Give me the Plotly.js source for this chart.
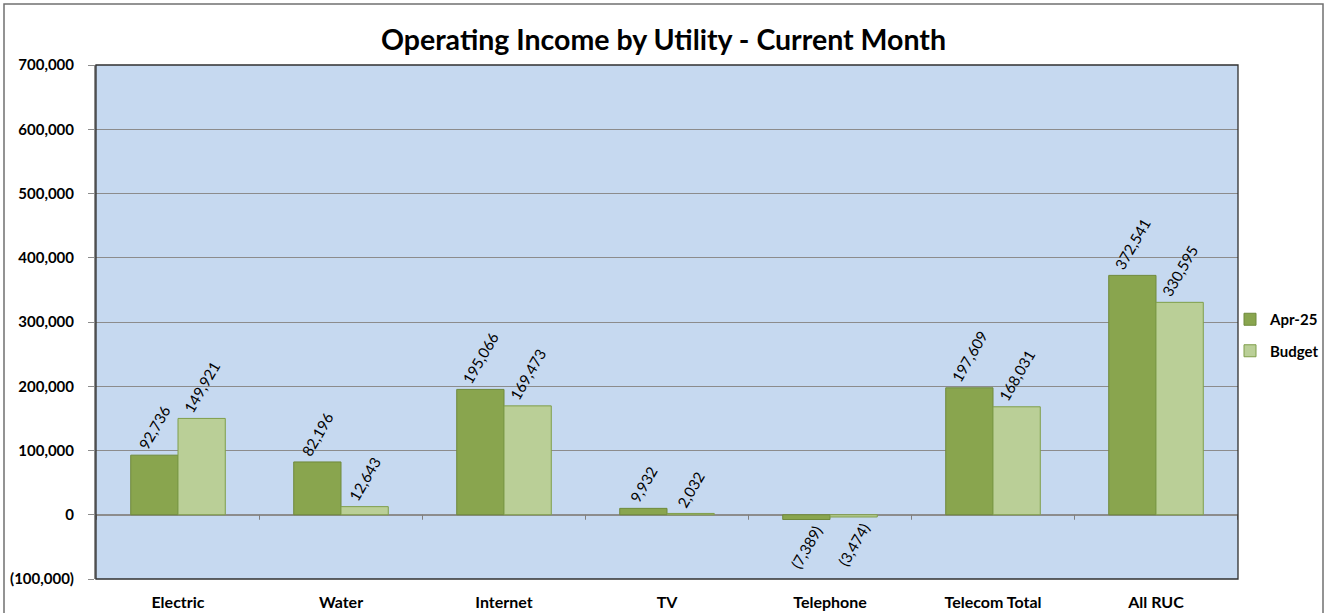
<!DOCTYPE html>
<html><head><meta charset="utf-8">
<script src="https://cdn.plot.ly/plotly-3.0.1.min.js"></script>
<style>html,body{margin:0;padding:0;background:#fff;}#chart{width:1327px;height:613px;}</style>
</head><body><div id="chart"></div>
<script>
const categories = ["Electric","Water","Internet","TV","Telephone","Telecom Total","All RUC"];
const actualName = "Apr-25";
const budgetName = "Budget";
const actualValues = [92736, 82196, 195066, 9932, -7389, 197609, 372541];
const budgetValues = [149921, 12643, 169473, 2032, -3474, 168031, 330595];
const yTicks = [-100000, 0, 100000, 200000, 300000, 400000, 500000, 600000, 700000];

function fmt(v){
  const s = Math.abs(v).toLocaleString('en-US');
  return v < 0 ? '(' + s + ')' : s;
}
const W = 1327, H = 613;
const m = {l:96, r:89, t:65, b:34, autoexpand:false};
const pw = W - m.l - m.r, ph = H - m.t - m.b;
const font = 'Lato, "Open Sans", Arial, sans-serif';

function barTrace(name, vals, fill, line, grp){
  return {
    type:'bar', name:name, x:categories, y:vals, legendgroup:grp,
    text: vals.map(fmt), textposition:'outside', textangle:-60,
    textfont:{family:font, size:15, color:'#000'},
    constraintext:'none', cliponaxis:false,
    marker:{color:fill, line:{color:line, width:1}},
    hoverinfo:'skip'
  };
}
const traces = [
  barTrace(actualName, actualValues, '#89A54E', '#6F8A3C', 'a'),
  barTrace(budgetName, budgetValues, '#BACF97', '#7F9E4A', 'b')
];

const shapes = [];
// category boundary ticks on the zero line
for (let i = 0; i <= categories.length; i++){
  shapes.push({type:'line', xref:'x', yref:'y', ysizemode:'pixel', yanchor:0,
    x0:i-0.5, x1:i-0.5, y0:0, y1:-5, line:{color:'#808080', width:1}, layer:'above'});
}
// plot area border
shapes.push({type:'rect', xref:'paper', yref:'paper', x0:0, x1:1, y0:0, y1:1,
  line:{color:'#303030', width:1.3}, layer:'above'});
// outer chart border
shapes.push({type:'rect', xref:'paper', yref:'paper',
  x0:(4-m.l)/pw, x1:(1323-m.l)/pw, y0:-(m.b+10)/ph, y1:(m.t-4)/ph + 1,
  line:{color:'#707070', width:1.5}, layer:'below'});

const layout = {
  width:W, height:H, margin:m,
  paper_bgcolor:'#ffffff', plot_bgcolor:'#C6D9F0',
  title:{text:'Operating Income by Utility - Current Month', x:0.5, xanchor:'center', y:1-40/H, yanchor:'middle',
    font:{family:font, size:28.5, color:'#000', weight:'bold'}},
  barmode:'group', bargap:0.42, bargroupgap:0,
  showlegend:true,
  legend:{x:(1230-m.l)/pw, xanchor:'left', y:1-(335-m.t)/ph, yanchor:'middle',
    font:{family:font, size:15, color:'#000', weight:'bold'}, bgcolor:'rgba(0,0,0,0)',
    itemwidth:30, tracegroupgap:9, traceorder:'grouped'},
  xaxis:{type:'category', showgrid:false, showline:false, ticks:'', ticklabelstandoff:12,
    tickfont:{family:font, size:16, color:'#000', weight:'bold'}, automargin:false, fixedrange:true},
  yaxis:{range:[-100000,700000], tickvals:yTicks, ticktext:yTicks.map(fmt),
    showgrid:true, gridcolor:'#8C8C8C', gridwidth:1,
    zeroline:true, zerolinecolor:'#8C8C8C', zerolinewidth:1.5,
    showline:true, linecolor:'#8C8C8C', linewidth:2, ticks:'outside', ticklen:6, tickcolor:'#8C8C8C',
    ticklabelstandoff:11,
    tickfont:{family:font, size:15, color:'#000', weight:'bold'}, automargin:false, fixedrange:true},
  shapes:shapes,
  font:{family:font}
};
Plotly.newPlot('chart', traces, layout, {displayModeBar:false, staticPlot:true});
</script>
</body></html>
